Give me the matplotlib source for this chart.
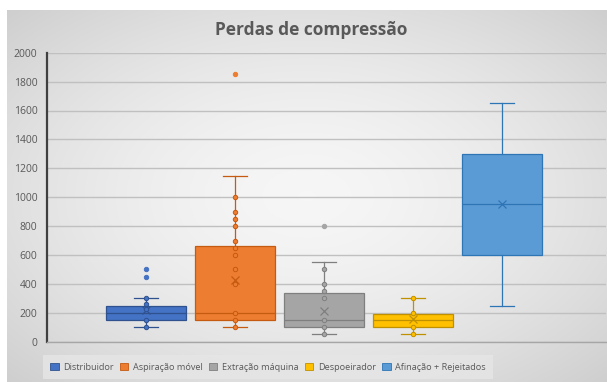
import numpy as np
import matplotlib
matplotlib.use("Agg")
import matplotlib.pyplot as plt
from matplotlib.patches import Patch

plt.rcParams['font.family'] = ['Open Sans', 'DejaVu Sans']

# ---- data ----
categories = ["Distribuidor", "Aspiração móvel", "Extração máquina", "Despoeirador", "Afinação + Rejeitados"]
q1 = [150, 150, 100, 100, 600]
medians = [200, 200, 150, 150, 950]
q3 = [250, 665, 340, 190, 1300]
whisker_low = [100, 100, 50, 50, 250]
whisker_high = [300, 1150, 550, 300, 1650]
means = [220, 430, 215, 157, 950]
inner_distribuidor = [100, 150, 225, 260, 300]
inner_aspiracao = [100, 150, 200, 400, 500, 600, 650, 700, 800, 850, 900, 1000]
inner_extracao = [50, 100, 150, 300, 350, 400, 500]
inner_despoeirador = [50, 100, 200, 300]
inner_afinacao = []
outliers_distribuidor = [450, 500]
outliers_aspiracao = [1850]
outliers_extracao = [800]
outliers_despoeirador = []
outliers_afinacao = []
yticks = [0, 200, 400, 600, 800, 1000, 1200, 1400, 1600, 1800, 2000]

inner = [inner_distribuidor, inner_aspiracao, inner_extracao, inner_despoeirador, inner_afinacao]
outliers = [outliers_distribuidor, outliers_aspiracao, outliers_extracao,
            outliers_despoeirador, outliers_afinacao]

colors = ["#4472C4", "#ED7D31", "#A5A5A5", "#FFC000", "#5B9BD5"]
dark = ["#2F528F", "#C55A11", "#7F7F7F", "#BF9000", "#2E75B6"]

W, H = 607, 382
fig = plt.figure(figsize=(W / 100, H / 100), dpi=100)
fig.patch.set_facecolor("white")

# background chart area with radial gradient
bg = fig.add_axes([7 / W, 0, 1 - 7 / W, (H - 10) / H], zorder=-10)
gx, gy = np.meshgrid(np.linspace(-1, 1, 400), np.linspace(-1, 1, 300))
r = np.sqrt(gx ** 2 + gy ** 2) / np.sqrt(2)
c0, c1 = 0.965, 0.81
img = c0 + (c1 - c0) * r ** 1.6
bg.imshow(np.dstack([img, img, img]), aspect="auto", extent=[0, 1, 0, 1])
bg.set_axis_off()

ax = fig.add_axes([47 / W, 40.3 / H, (606 - 47) / W, 289 / H])
ax.patch.set_alpha(0)

positions = np.arange(len(categories))
stats = []
for i in range(len(categories)):
    stats.append(dict(med=medians[i], q1=q1[i], q3=q3[i], whislo=whisker_low[i],
                      whishi=whisker_high[i], mean=means[i], fliers=[], label=categories[i]))

for i in range(len(categories)):
    ax.bxp([stats[i]], positions=[positions[i]], widths=0.905, capwidths=0.26,
           patch_artist=True, showmeans=True, showfliers=False,
           boxprops=dict(facecolor=colors[i], edgecolor=dark[i], linewidth=0.9),
           medianprops=dict(color=dark[i], linewidth=0.9),
           whiskerprops=dict(color=dark[i], linewidth=0.9),
           capprops=dict(color=dark[i], linewidth=0.9),
           meanprops=dict(marker="x", markeredgecolor=dark[i], markersize=6, markeredgewidth=0.9),
           zorder=3)
    if inner[i]:
        ax.scatter([positions[i]] * len(inner[i]), inner[i], s=10, facecolor=colors[i],
                   edgecolor=dark[i], linewidth=0.7, zorder=4)
    if outliers[i]:
        ax.scatter([positions[i]] * len(outliers[i]), outliers[i], s=10, facecolor=colors[i],
                   edgecolor=colors[i], linewidth=0.7, zorder=4)

ax.set_ylim(0, 2000)
ax.set_xlim(-(146 - 47) / 89, 4 + (606 - 502) / 89)
ax.set_yticks(yticks)
ax.set_yticklabels([str(v) for v in yticks], fontsize=7.5, color="#595959")
ax.set_xticks([])
ax.tick_params(axis="y", length=0, pad=7)
ax.yaxis.grid(True, color="#C0C0C0", linewidth=1.0, zorder=0)
ax.set_axisbelow(True)
for s in ["top", "right"]:
    ax.spines[s].set_visible(False)
ax.spines["left"].set_color("#404040")
ax.spines["left"].set_linewidth(1.6)
ax.spines["bottom"].set_color("#A6A6A6")
ax.spines["bottom"].set_linewidth(1.0)

fig.text(0.512, (H - 30) / H, "Perdas de compressão", ha="center", va="center",
         fontsize=12.5, fontweight="bold", color="#595959")

handles = [Patch(facecolor=colors[i], edgecolor=dark[i], linewidth=0.6) for i in range(len(categories))]
leg = fig.legend(handles, categories, loc="center", bbox_to_anchor=(268 / W, (H - 367) / H),
                 ncol=5, frameon=True, fontsize=6.6, handlelength=0.9, handleheight=0.9,
                 handletextpad=0.5, columnspacing=0.7, borderpad=0.8)
leg.get_frame().set_facecolor("#E6E6E6")
leg.get_frame().set_edgecolor("none")
leg.get_frame().set_boxstyle("square", pad=0.0)
for t in leg.get_texts():
    t.set_color("#595959")

fig.savefig("out.png", dpi=100)
